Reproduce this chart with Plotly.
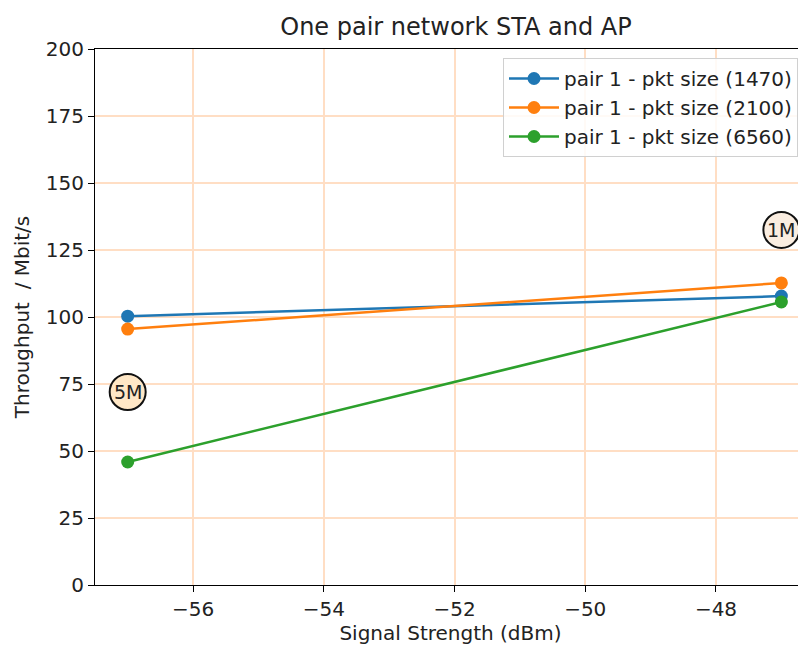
import plotly.graph_objects as go

signal = [-57, -47]
series_names = ["pair 1 - pkt size (1470)", "pair 1 - pkt size (2100)", "pair 1 - pkt size (6560)"]
tp_1470 = [100.3, 107.8]
tp_2100 = [95.5, 112.7]
tp_6560 = [45.9, 105.6]
colors = ["#1f77b4", "#ff7f0e", "#2ca02c"]

ann_labels = ["5M", "1M"]
ann_x = [-57, -47]
ann_y = [72, 132.5]
ann_fill = ["#FFE7C6", "#FAEDE0"]

xticks = [-56, -54, -52, -50, -48]
yticks = [0, 25, 50, 75, 100, 125, 150, 175, 200]

fig = go.Figure()
for name, ys, c in zip(series_names, [tp_1470, tp_2100, tp_6560], colors):
    fig.add_trace(go.Scatter(x=signal, y=ys, name=name, mode="lines+markers",
                             line=dict(color=c, width=2.5), marker=dict(color=c, size=13)))

for lab, ax, ay, fc in zip(ann_labels, ann_x, ann_y, ann_fill):
    fig.add_shape(type="circle", xref="x", yref="y", xsizemode="pixel", ysizemode="pixel",
                  xanchor=ax, yanchor=ay, x0=-18, x1=18, y0=-18, y1=18,
                  fillcolor=fc, line=dict(color="#111111", width=2), layer="above")
    fig.add_annotation(x=ax, y=ay, text=lab, showarrow=False,
                       font=dict(size=19, color="#222222"))

# page body has an 8px margin, so the figure is offset by 8px
W, H = 798, 637
L, T, B = 87, 41, 60
fig.update_layout(
    width=W, height=H,
    margin=dict(l=L, r=0, t=T, b=B),
    paper_bgcolor="white", plot_bgcolor="white",
    font=dict(family="DejaVu Sans", size=20, color="#222222"),
    title=dict(text="One pair network STA and AP", x=(456 - 8) / W, xanchor="center",
               y=1 - (27 - 8) / H, yanchor="middle", font=dict(size=24, color="#222222")),
    showlegend=True,
    legend=dict(x=(503 - 95) / 711, y=(585 - 58) / 536, xanchor="left", yanchor="top",
                bgcolor="rgba(255,255,255,0.85)", bordercolor="#d0d0d0", borderwidth=1,
                itemwidth=50,
                font=dict(size=20, color="#222222"), tracegroupgap=0),
    xaxis=dict(range=[-57.5, -46.623], tickvals=xticks, ticktext=["\u2212" + str(abs(v)) for v in xticks],
               showgrid=True, gridcolor="#FFDEC4", gridwidth=1.5, zeroline=False,
               showline=True, linecolor="black", linewidth=1.2, mirror=True,
               ticks="outside", ticklen=6, tickcolor="black", tickwidth=1.2,
               tickfont=dict(size=20),
               title=dict(text="Signal Strength (dBm)", standoff=9, font=dict(size=20))),
    yaxis=dict(range=[0, 200], tickvals=yticks,
               showgrid=True, gridcolor="#FFDEC4", gridwidth=1.5, zeroline=False,
               showline=True, linecolor="black", linewidth=1.2, mirror=False,
               ticks="outside", ticklen=6, tickcolor="black", tickwidth=1.2,
               tickfont=dict(size=20),
               title=dict(text="Throughput  / Mbit/s", standoff=10, font=dict(size=20))),
)

fig.write_html("out.html")
